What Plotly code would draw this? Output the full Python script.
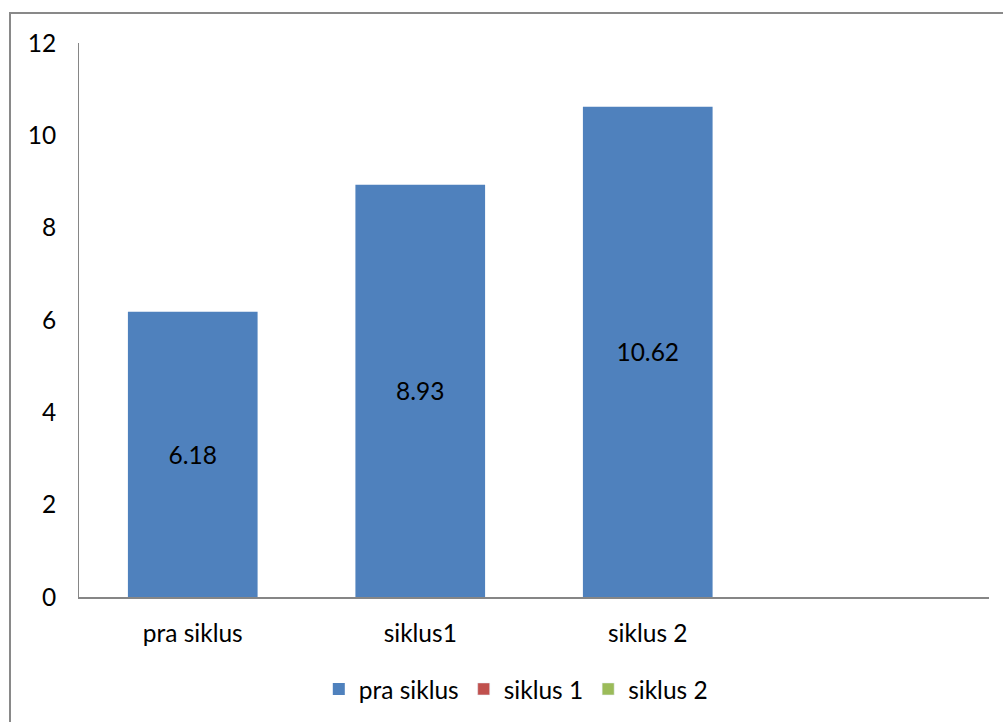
import plotly.graph_objects as go

# Chart data
categories = ["pra siklus", "siklus1", "siklus 2"]
pra_siklus = [6.18, 8.93, 10.62]
series_names = ["pra siklus", "siklus 1", "siklus 2"]
series_colors = ["#4F81BD", "#C0504D", "#9BBB59"]
y_ticks = [0, 2, 4, 6, 8, 10, 12]

FONT = dict(family="Lato, Calibri, sans-serif", size=24.5, color="#000000")

fig = go.Figure()

fig.add_trace(go.Bar(
    x=categories,
    y=pra_siklus,
    name=series_names[0],
    marker=dict(color=series_colors[0], line=dict(width=0)),
    width=0.57,
    text=[f"{v:.2f}" for v in pra_siklus],
    textposition="inside",
    insidetextanchor="middle",
    textfont=FONT,
    textangle=0,
))

# Series without values; shown only in the legend
for name, color in zip(series_names[1:], series_colors[1:]):
    fig.add_trace(go.Bar(
        x=categories,
        y=[None] * len(categories),
        name=name,
        marker=dict(color=color),
        width=0.57,
    ))

fig.update_layout(
    width=1003,
    height=722,
    margin=dict(l=79, r=14, t=43, b=124),
    paper_bgcolor="white",
    plot_bgcolor="white",
    barmode="overlay",
    font=FONT,
    showlegend=True,
    legend=dict(
        orientation="h",
        x=0.48,
        xanchor="center",
        y=-0.164,
        yanchor="middle",
        font=FONT,
        itemwidth=30,
        tracegroupgap=0,
        bgcolor="rgba(0,0,0,0)",
    ),
    xaxis=dict(
        type="category",
        range=[-0.5, 3.5],
        showline=True,
        linecolor="#868686",
        linewidth=2,
        showgrid=False,
        zeroline=False,
        ticks="",
        ticklabelstandoff=14,
        tickfont=FONT,
    ),
    yaxis=dict(
        range=[0, 12],
        tickvals=y_ticks,
        showline=True,
        linecolor="#868686",
        linewidth=1,
        showgrid=False,
        zeroline=False,
        ticks="",
        ticklabelstandoff=17,
        tickfont=FONT,
    ),
    shapes=[
        dict(
            type="rect",
            xref="paper", yref="paper",
            x0=-69 / 910, x1=1.2,
            y0=-0.4, y1=1 + 30 / 555,
            line=dict(color="#898989", width=2),
            fillcolor="rgba(0,0,0,0)",
            layer="below",
        )
    ],
)

fig.write_html("out.html")
